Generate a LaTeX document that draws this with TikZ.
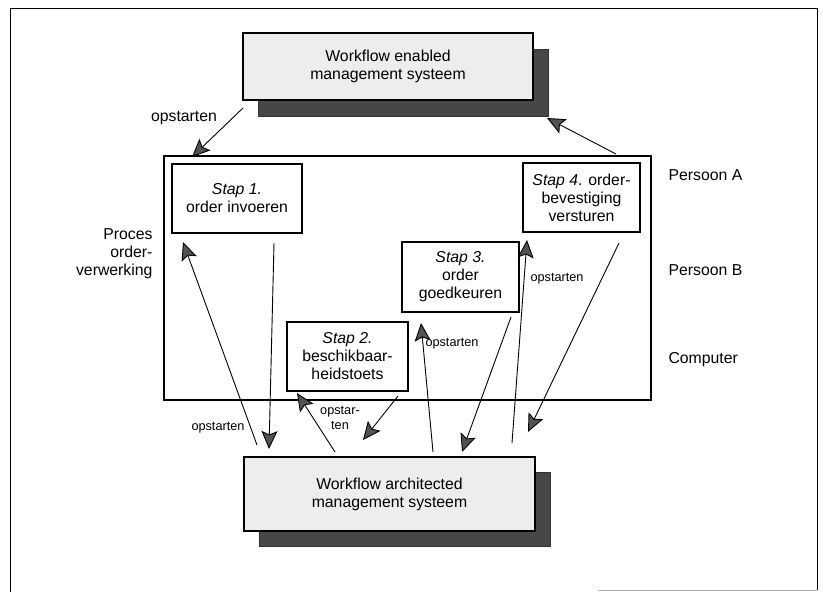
\documentclass[tikz,border=0pt]{standalone}
\usepackage{fontspec}
\setmainfont{Liberation Sans}
\usetikzlibrary{arrows.meta}
\begin{document}
\begin{tikzpicture}[x=1pt,y=-1pt,
  every node/.style={font=\fontsize{15.8}{18}\selectfont},
  stepbox/.style={draw,line width=1.2pt,fill=white,align=center,inner sep=0pt},
  sysbox/.style={draw,line width=1.2pt,fill=gray!14,align=center,inner sep=0pt},
  shadowbox/.style={fill=black!72,draw=black!80,inner sep=0pt},
  small/.style={font=\fontsize{12.7}{15}\selectfont,align=center},
  flow/.style={line width=0.9pt,-{Stealth[length=18pt,width=16pt,inset=3.5pt,fill=black!68]}},
]
\useasboundingbox (0,0) rectangle (823,592);

% outer frame
\draw[line width=1pt] (10,592) -- (10,8) -- (817,8) -- (817,590);
\draw[line width=1pt,gray!70] (598,590) -- (817,590);

% management systems with shadows
\node[shadowbox,minimum width=290pt,minimum height=67pt] (wemsh) at (403,82.5) {};
\node[sysbox,minimum width=290pt,minimum height=67pt] (wems) at (388,66.5)
  {Workflow enabled\\management systeem};
\node[shadowbox,minimum width=291pt,minimum height=74pt] (wamsh) at (404.5,509) {};
\node[sysbox,minimum width=291pt,minimum height=74pt] (wams) at (389.5,494)
  {Workflow architected\\management systeem};

% process frame and steps
\node[draw,line width=1.2pt,minimum width=487pt,minimum height=244pt,inner sep=0pt] (proc) at (407.5,278) {};
\node[stepbox,minimum width=130pt,minimum height=69pt] (s1) at (237,198.5)
  {\textit{Stap 1.}\\order invoeren};
\node[stepbox,minimum width=121pt,minimum height=69pt] (s2) at (347.5,356.5)
  {\textit{Stap 2.}\\beschikbaar-\\heidstoets};
\node[stepbox,minimum width=117pt,minimum height=70pt] (s3) at (460.5,277)
  {\textit{Stap 3.}\\order\\goedkeuren};
\node[stepbox,minimum width=117pt,minimum height=69pt] (s4) at (581.5,197.5)
  {\textit{Stap 4}. order-\\bevestiging\\versturen};

% side labels
\node[anchor=east,align=right] (proclbl) at (156,254) {Proces\\order-\\verwerking};
\node[anchor=west] (pa) at (665,175) {Persoon A};
\node[anchor=west] (pb) at (665,270) {Persoon B};
\node[anchor=west] (pc) at (665,360) {Computer};

% connector end points
\coordinate (t0a) at (243,108);  \coordinate (t0b) at (192,157);
\coordinate (t9a) at (616,154);  \coordinate (t9b) at (547,118);
\coordinate (aa) at (274,243);   \coordinate (ab) at (269,449);
\coordinate (ba) at (257,445);   \coordinate (bb) at (183,242);
\coordinate (ca) at (335,452);   \coordinate (cb) at (297,393);
\coordinate (da) at (398,396);   \coordinate (db) at (363,440);
\coordinate (ea) at (433,452);   \coordinate (eb) at (421,323);
\coordinate (fa) at (511,317);   \coordinate (fb) at (462,452);
\coordinate (ga) at (512,443);   \coordinate (gb) at (527,240);
\coordinate (ha) at (619,243);   \coordinate (hb) at (528,432);

\draw[flow] (t0a) -- (t0b);
\draw[flow] (t9a) -- (t9b);
\draw[flow] (aa) -- (ab);
\draw[flow] (ba) -- (bb);
\draw[flow] (ca) -- (cb);
\draw[flow] (da) -- (db);
\draw[flow] (ea) -- (eb);
\draw[flow] (fa) -- (fb);
\draw[flow] (ga) -- (gb);
\draw[flow] (ha) -- (hb);

% connector labels
\node (l0) at (184,118) {opstarten};
\node[small] (l1) at (218,428) {opstarten};
\node[small] (l2) at (340,418) {opstar-\\ten};
\node[small] (l3) at (452,344) {opstarten};
\node[small] (l4) at (557,279) {opstarten};
\end{tikzpicture}
\end{document}
